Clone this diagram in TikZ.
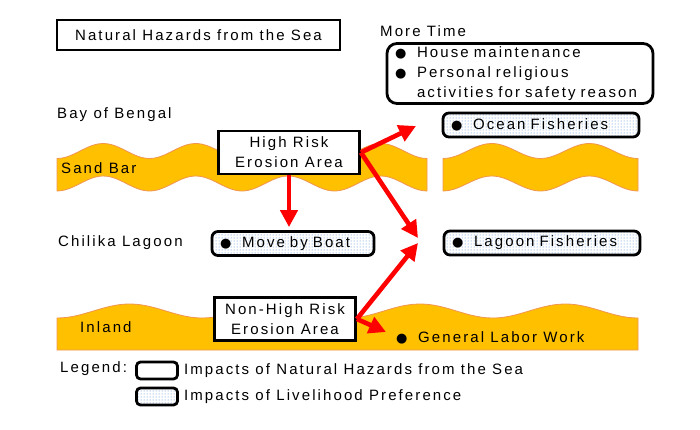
\documentclass[tikz,border=0pt]{standalone}
\usepackage{fontspec}
\setmainfont{Liberation Sans}[LetterSpace=14]
\newfontfamily\bulletfont{DejaVu Sans}
\usepackage{xcolor}
\usepackage{tikz}
\usetikzlibrary{positioning,arrows.meta,patterns}

\definecolor{sandgold}{RGB}{255,192,0}
\definecolor{sandedge}{RGB}{240,150,80}
\definecolor{dotblue}{RGB}{70,130,210}
\newcommand{\dotitem}{\makebox[22pt][l]{\bulletfont\fontsize{13}{13}\selectfont ●}}

\begin{document}
\begin{tikzpicture}[x=1pt, y=-1pt, font=\fontsize{15}{20}\selectfont,
    hazard/.style={draw, line width=2.8pt, fill=white, align=center, minimum width=141pt, minimum height=43pt, inner sep=2pt},
    impact/.style={draw, line width=2.8pt, rounded corners=6pt, fill=white, align=left, inner xsep=8pt, minimum height=24pt},
    livelihood/.style={draw, line width=2.8pt, rounded corners=6pt, pattern=dots, pattern color=dotblue, align=left, inner xsep=8pt, minimum height=24pt},
    place/.style={anchor=west, inner sep=0pt},
    hit/.style={red, line width=4.6pt, -{Triangle[length=17pt,width=17pt]}},
    band/.style={fill=sandgold, draw=sandedge, line width=0.8pt}]
\useasboundingbox (0,0) rectangle (700,430);

\draw[band] plot[domain=57:427, samples=90] (\x,{151+7.5*cos((\x-57)/92.5*360)})
    -- plot[domain=427:57, samples=90] (\x,{183.5+7.5*cos((\x-57)/92.5*360)}) -- cycle;
\draw[band] plot[domain=443:638, samples=50] (\x,{151+7.5*cos((\x-443)/97.5*360)})
    -- plot[domain=638:443, samples=50] (\x,{183.5+7.5*cos((\x-443)/97.5*360)}) -- cycle;
\draw[band] plot[domain=57:638, samples=120] (\x,{311+7*cos((\x-57)/145.25*360)})
    -- (638,350) -- (57,350) -- cycle;

\node[hazard, minimum width=283pt, minimum height=30pt] (title) at (198.5,35) {Natural Hazards from the Sea};
\node[place] (moretime) at (380,31) {More Time};
\node[impact, text width=250pt, inner ysep=3pt, rounded corners=10pt] (moretimebox) at (520,73.5)
    {\dotitem House maintenance\\\dotitem Personal religious\\\hphantom{\dotitem}activities for safety reason};

\node[place] (bay) at (57,115) {Bay of Bengal};
\node[place] (sandbar) at (61,168) {Sand Bar};
\node[place] (chilika) at (58,243) {Chilika Lagoon};
\node[place] (inland) at (80,327) {Inland};

\node[hazard] (highrisk) at (289,152.5) {High Risk\\Erosion Area};
\node[hazard] (nonhigh) at (285,319) {Non-High Risk\\Erosion Area};

\node[livelihood, text width=180pt] (ocean) at (541,125) {\dotitem Ocean Fisheries};
\node[livelihood, text width=180pt] (lagoon) at (542,243) {\dotitem Lagoon Fisheries};
\node[livelihood, text width=146pt] (boat) at (293,243.5) {\dotitem Move by Boat};
\node[place] (labor) at (396,338) {\dotitem General Labor Work};

\coordinate (oceantip) at (416,126);
\coordinate (lagoontip) at (418,238);
\coordinate (lagoonrise) at (418,243);
\coordinate (labortip) at (386,332);

\draw[hit, shorten >=3pt] (highrisk.south) -- (highrisk.south |- boat.north);
\draw[hit] (highrisk.east) -- (oceantip);
\draw[hit] (highrisk.east) -- (lagoontip);
\draw[hit] (nonhigh.east) -- (lagoonrise);
\draw[hit] (nonhigh.east) -- (labortip);

\node[place] (legend) at (60,369) {Legend:};
\node[impact, minimum width=41pt, minimum height=17pt, inner sep=0pt, rounded corners=4pt] (keyhazard) at (157,370.5) {};
\node[livelihood, minimum width=41pt, minimum height=17pt, inner sep=0pt, rounded corners=4pt] (keylive) at (157,396.5) {};
\node[place, right=5pt of keyhazard] (keyhazardtext) {Impacts of Natural Hazards from the Sea};
\node[place, right=5pt of keylive] (keylivetext) {Impacts of Livelihood Preference};
\end{tikzpicture}
\end{document}
